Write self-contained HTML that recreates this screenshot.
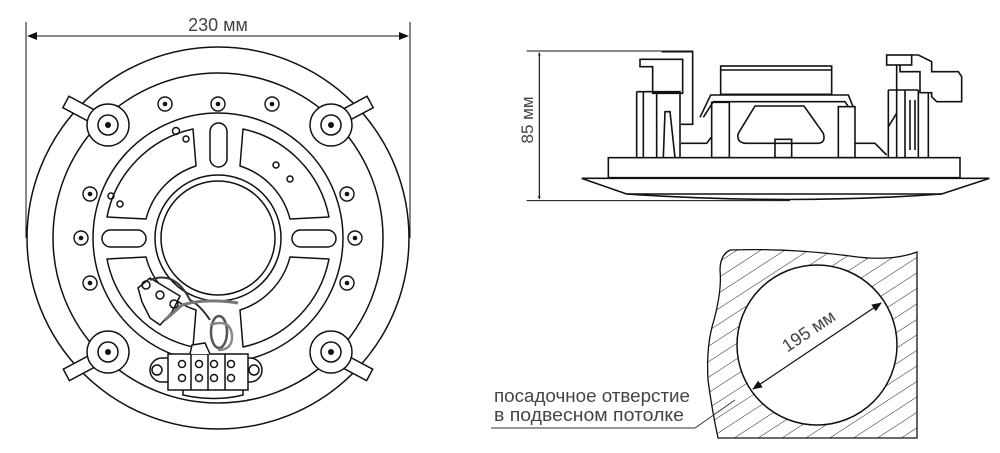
<!DOCTYPE html>
<html><head><meta charset="utf-8"><style>
html,body{margin:0;padding:0;background:#fff;}
svg{display:block;}
text{font-family:"Liberation Sans","DejaVu Sans",sans-serif;fill:#444;}
</style></head><body>
<svg width="1000" height="453" viewBox="0 0 1000 453" xmlns="http://www.w3.org/2000/svg">
<defs>
<marker id="ar" markerWidth="10" markerHeight="8" refX="9" refY="4" orient="auto-start-reverse" markerUnits="userSpaceOnUse">
<path d="M0,0 L10,4 L0,8 Z" fill="#111"/></marker>
<pattern id="hatch" patternUnits="userSpaceOnUse" width="13" height="13" patternTransform="rotate(-33)">
<line x1="0" y1="0" x2="13" y2="0" stroke="#222" stroke-width="1"/></pattern>
<clipPath id="cl"><path d="M730,250 Q790,248 850,256 Q890,262 917,252 L917,438 L718,438 Q712,410 708,380 Q706,345 714,320 Q722,290 720,270 Q720,255 730,250 Z"/></clipPath>
<g id="lug"><circle r="21" fill="#fff" stroke="#111" stroke-width="1.5"/><circle r="10" fill="none" stroke="#111" stroke-width="1.5"/><circle r="3" fill="#111"/></g>
<g id="hole"><circle r="7" fill="#fff" stroke="#111" stroke-width="1.4"/><circle r="2.3" fill="#111"/></g>
</defs>

<!-- LEFT VIEW -->
<g stroke="#111" fill="none" stroke-width="1.5">
<line x1="26" y1="22" x2="26" y2="238" stroke-width="1"/>
<line x1="410" y1="22" x2="410" y2="238" stroke-width="1"/>
<line x1="28" y1="36" x2="408" y2="36" stroke-width="1" marker-start="url(#ar)" marker-end="url(#ar)"/>
<circle cx="218" cy="238" r="191"/>
<circle cx="218" cy="238" r="165"/>
<circle cx="218" cy="238" r="125"/>
<circle cx="218" cy="238" r="63"/>
<circle cx="218" cy="238" r="57"/>
<path d="M243,129 A112 112 0 0 1 329,217 L290,219 A75 75 0 0 0 240,166 Z" stroke-linejoin="round"/>
<path d="M107,217 A112 112 0 0 1 193,129 L196,166 A75 75 0 0 0 146,219 Z" stroke-linejoin="round"/>
<path d="M193,347 A112 112 0 0 1 107,259 L146,257 A75 75 0 0 0 196,310 Z" stroke-linejoin="round"/>
<path d="M329,259 A112 112 0 0 1 243,347 L240,310 A75 75 0 0 0 290,257 Z" stroke-linejoin="round"/>
<rect x="210" y="123" width="17" height="44" rx="8.5"/>
<rect x="102" y="230" width="44" height="17" rx="8.5"/>
<rect x="292" y="230" width="44" height="17" rx="8.5"/>
<g fill="#fff">
<rect x="64" y="104" width="36" height="13" transform="rotate(28 82 110)"/>
<rect x="336" y="104" width="36" height="13" transform="rotate(-28 354 110)"/>
<rect x="64" y="360" width="36" height="13" transform="rotate(-28 82 366)"/>
<rect x="336" y="360" width="36" height="13" transform="rotate(28 354 366)"/>
</g>
<circle cx="176" cy="131" r="3.5"/><circle cx="186" cy="139" r="3"/>
<circle cx="111" cy="196" r="3"/><circle cx="120" cy="204" r="3"/>
<circle cx="276" cy="165" r="3"/><circle cx="290" cy="179" r="3"/>
<path d="M138,288 L150,278 L180,296 L172,312 L160,325 L150,318 L142,302 Z" fill="#fff"/>
<circle cx="146" cy="285" r="4"/><circle cx="160" cy="295" r="4"/><circle cx="174" cy="304" r="4"/>
<path d="M150,280 Q175,270 190,300 Q200,305 210,320" stroke="#333" stroke-width="2"/>
<path d="M165,320 L182,305 Q205,298 238,303" stroke="#777" stroke-width="3"/>
<ellipse cx="219" cy="332" rx="8" ry="16" stroke="#555" stroke-width="2.5"/>
<path d="M210,325 Q230,318 232,335 Q233,350 218,350" stroke="#888" stroke-width="2.5"/>
<rect x="150" y="358" width="112" height="24" rx="12" fill="#fff"/>
<circle cx="157" cy="370" r="5"/><circle cx="254" cy="370" r="5"/>
<path d="M183,383 L183,395 Q215,402 243,395 L243,383"/>
<path d="M192,384 v6 M200,384 v7 M208,384 v7 M216,384 v7" stroke-width="1"/>
<rect x="168" y="354" width="80" height="36" fill="#fff"/>
<line x1="191" y1="354" x2="191" y2="390"/><line x1="208" y1="354" x2="208" y2="390"/><line x1="225" y1="354" x2="225" y2="390"/>
<circle cx="182" cy="364" r="3.5"/><circle cx="182" cy="378" r="3.5"/>
<circle cx="199" cy="364" r="3.5"/><circle cx="199" cy="378" r="3.5"/>
<circle cx="214" cy="364" r="3.5"/><circle cx="214" cy="378" r="3.5"/>
<circle cx="231" cy="364" r="3.5"/><circle cx="231" cy="378" r="3.5"/>
<path d="M190,354 L192,345 L205,343 L210,354" fill="#fff"/>
</g>
<use href="#lug" x="108" y="125"/><use href="#lug" x="331" y="125"/>
<use href="#lug" x="108" y="352"/><use href="#lug" x="331" y="352"/>
<use href="#hole" x="165" y="104"/><use href="#hole" x="218" y="104"/><use href="#hole" x="272" y="104"/>
<use href="#hole" x="90" y="194"/><use href="#hole" x="81" y="238"/><use href="#hole" x="90" y="283"/>
<use href="#hole" x="347" y="194"/><use href="#hole" x="355" y="238"/><use href="#hole" x="347" y="283"/>
<text x="218" y="31" font-size="18" text-anchor="middle">230 мм</text>

<!-- SIDE VIEW -->
<g transform="translate(500,30) scale(0.33333)" stroke="#111" fill="none" stroke-width="4.8" stroke-linejoin="miter">
<path d="M80,63 H580 M80,512 H870" stroke-width="3"/>
<line x1="118" y1="68" x2="118" y2="507" stroke-width="3.5" marker-start="url(#ar)" marker-end="url(#ar)"/>
<path d="M485,65 H578 V283 H543"/>
<path d="M420,88 H548 V190 H458 V110 H420 Z"/>
<path d="M410,185 H540 V383 M410,185 V383 M430,185 V383 M470,185 V383"/>
<path d="M490,383 L495,245 H510 L525,383"/>
<path d="M543,340 H620 L635,320"/>
<path d="M600,262 L632,195 H1045 L1060,232 M610,262 L640,215 H1035 L1045,230"/>
<rect x="662" y="108" width="333" height="85"/>
<path d="M662,120 H995"/>
<rect x="635" y="217" width="53" height="166"/>
<rect x="1015" y="230" width="50" height="153"/>
<path d="M765,228 H912 L970,310 Q978,338 955,340 H738 Q708,338 715,310 Z"/>
<rect x="825" y="328" width="50" height="55"/>
<path d="M1065,340 H1125 L1160,375"/>
<rect x="1160" y="75" width="75" height="30"/>
<path d="M1200,105 V125 H1260 V188 H1295 V200 L1310,215 H1385 V140 L1375,125 H1295 V95 L1255,75 H1235"/>
<path d="M1165,180 V383 M1190,105 V383 M1215,180 V383 M1255,180 V383 M1285,190 V383 M1165,180 H1255"/>
<path d="M1165,290 L1190,250"/>
<path d="M1230,210 V360 M1245,210 V360"/>
<rect x="325" y="383" width="1055" height="60" fill="#fff"/>
<path d="M245,445 H1468 L1325,492 H380 Z"/>
<path d="M380,492 Q870,525 1325,492"/>
</g>
<text transform="translate(533,120) rotate(-90)" font-size="17" text-anchor="middle">85 мм</text>

<!-- CUTOUT -->
<rect x="700" y="240" width="220" height="200" fill="url(#hatch)" clip-path="url(#cl)"/>
<path d="M730,250 Q790,248 850,256 Q890,262 917,252 L917,438 L718,438 Q712,410 708,380 Q706,345 714,320 Q722,290 720,270 Q720,255 730,250 Z" fill="none" stroke="#111" stroke-width="1.3"/>
<circle cx="817" cy="345" r="80" fill="#fff" stroke="#111" stroke-width="1.5"/>
<line x1="753" y1="389" x2="881" y2="303" stroke="#111" stroke-width="1.2" marker-start="url(#ar)" marker-end="url(#ar)"/>
<text transform="translate(812,336) rotate(-34)" font-size="18" text-anchor="middle">195 мм</text>
<text x="494" y="402" font-size="18" textLength="196" lengthAdjust="spacingAndGlyphs">посадочное отверстие</text>
<text x="494" y="421" font-size="18" textLength="190" lengthAdjust="spacingAndGlyphs">в подвесном потолке</text>
<path d="M491,428 H695 L735,400" fill="none" stroke="#333" stroke-width="1"/>
</svg>
</body></html>
